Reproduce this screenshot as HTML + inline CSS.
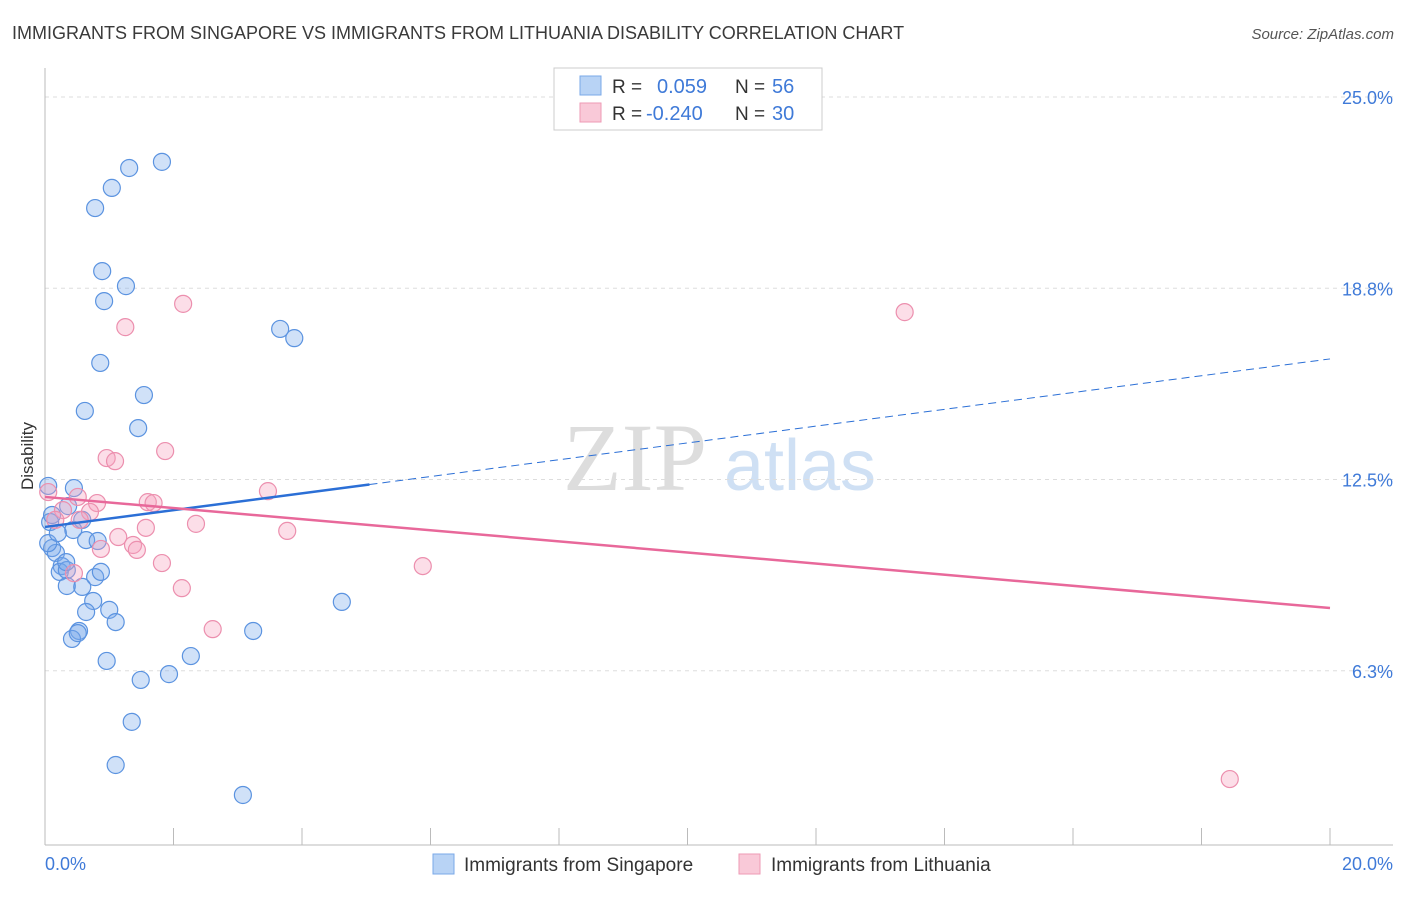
<!DOCTYPE html>
<html><head><meta charset="utf-8"><style>
body{margin:0;background:#fff;font-family:"Liberation Sans",sans-serif;}
</style></head><body>
<svg id="chart" width="1406" height="892" xmlns="http://www.w3.org/2000/svg" font-family="Liberation Sans, sans-serif">
<text x="12" y="39" font-size="18" fill="#3a3a3a">IMMIGRANTS FROM SINGAPORE VS IMMIGRANTS FROM LITHUANIA DISABILITY CORRELATION CHART</text>
<text x="1394" y="39" font-size="15" fill="#555" text-anchor="end" font-style="italic">Source: ZipAtlas.com</text>
<text transform="translate(33,456) rotate(-90)" font-size="17" fill="#333" text-anchor="middle">Disability</text>
<g><text x="635" y="490" font-size="96" fill="#ddd" text-anchor="middle" font-family="Liberation Serif, serif">ZIP</text><text x="800" y="490" font-size="72" fill="#cfe0f4" text-anchor="middle">atlas</text></g>
<g id="grid"></g><g id="axes"></g><g id="marks"></g>
<g>
<rect x="554" y="68" width="268" height="62" fill="#fff" stroke="#ccc"/>
<rect x="580" y="76" width="21" height="19" fill="#b8d3f5" stroke="#7aa8e8"/>
<rect x="580" y="103" width="21" height="19" fill="#f9c9d8" stroke="#ee9ab5"/>
<text x="612" y="93" font-size="19" fill="#333">R =</text><text x="657" y="93" font-size="20" fill="#3f7ad8">0.059</text>
<text x="735" y="93" font-size="19" fill="#333">N =</text><text x="772" y="93" font-size="20" fill="#3f7ad8">56</text>
<text x="612" y="120" font-size="19" fill="#333">R =</text><text x="646" y="120" font-size="20" fill="#3f7ad8">-0.240</text>
<text x="735" y="120" font-size="19" fill="#333">N =</text><text x="772" y="120" font-size="20" fill="#3f7ad8">30</text>
</g>
<g>
<rect x="433" y="854" width="21" height="20" fill="#b8d3f5" stroke="#7aa8e8"/>
<text x="464" y="871" font-size="19" fill="#333">Immigrants from Singapore</text>
<rect x="739" y="854" width="21" height="20" fill="#f9c9d8" stroke="#ee9ab5"/>
<text x="771" y="871" font-size="19" fill="#333">Immigrants from Lithuania</text>
</g>
</svg>
<script>
const yTicks=[25,18.75,12.5,6.25];
const yTickLabels=["25.0%","18.8%","12.5%","6.3%"];
const xTickLabels=["0.0%","20.0%"];
const blueX=[1.82,1.31,1.04,0.78,0.89,1.26,0.92,3.66,3.88,0.86,1.54,0.62,1.45,0.45,0.36,0.05,0.58,0.44,0.08,0.64,0.82,0.11,0.17,0.05,0.26,0.23,0.34,0.78,0.87,0.34,0.58,0.75,1.0,0.64,1.1,0.53,0.42,0.51,3.24,4.62,2.27,0.96,1.93,1.49,1.35,1.1,3.08,0.2,0.11,0.33];
const blueY=[22.88,22.68,22.03,21.37,19.31,18.82,18.33,17.42,17.12,16.31,15.26,14.74,14.18,12.22,11.63,12.29,11.18,10.85,11.11,10.52,10.49,10.26,10.1,10.42,9.67,9.48,9.54,9.31,9.48,9.02,8.99,8.53,8.24,8.17,7.84,7.55,7.29,7.48,7.55,8.5,6.73,6.57,6.14,5.95,4.58,3.17,2.19,10.75,11.34,9.8];
const pinkX=[2.15,1.25,13.38,1.87,0.96,1.09,3.47,1.6,1.69,0.81,0.51,0.28,0.7,0.05,0.16,2.35,1.57,3.77,1.14,1.37,1.43,0.87,1.82,5.88,0.45,2.13,2.61,18.44,0.54];
const pinkY=[18.24,17.48,17.97,13.43,13.2,13.1,12.12,11.76,11.73,11.73,11.93,11.5,11.44,12.09,11.18,11.05,10.92,10.82,10.62,10.36,10.2,10.23,9.77,9.67,9.44,8.95,7.61,2.71,11.18];
const blueTrend=[10.95,16.44];
const blueSolidEnd=5.05;
const pinkTrend=[11.93,8.3];
const NS="http://www.w3.org/2000/svg";
const xs=v=>45+v*64.25, ys=v=>97+(25-v)*30.6;
function mk(t,a,p){const e=document.createElementNS(NS,t);for(const k in a)e.setAttribute(k,a[k]);p.appendChild(e);return e;}
const grid=document.getElementById('grid'),axes=document.getElementById('axes'),marks=document.getElementById('marks');
yTicks.forEach((v,i)=>{
 const l=mk('line',{x1:45,x2:1393,y1:ys(v),y2:ys(v),stroke:'#ddd','stroke-dasharray':'4,4'},grid);
 
 
 const t=mk('text',{x:1393,y:ys(v)+7,'font-size':18,fill:'#3f7ad8','text-anchor':'end'},grid);
 t.textContent=yTickLabels[i];
 
 
});
mk('line',{x1:45,x2:45,y1:68,y2:845,stroke:'#bbb'},axes);
mk('line',{x1:45,x2:1393,y1:845,y2:845,stroke:'#bbb'},axes);
for(let i=0;i<=10;i++){mk('line',{x1:xs(i*2),x2:xs(i*2),y1:828,y2:845,stroke:'#bbb'},axes);}
[[0,'start',45],[20,'end',1393]].forEach((d,i)=>{
 const t=mk('text',{x:d[2],y:870,'font-size':18,fill:'#3f7ad8','text-anchor':d[1]},axes);
 t.textContent=xTickLabels[i];
 
 
});
blueX.forEach((x,i)=>{
 const c=mk('circle',{cx:xs(x),cy:ys(blueY[i]),r:8.5,fill:'rgba(120,170,235,0.35)',stroke:'#5b93e0','stroke-width':1.2},marks);
 
 
});
pinkX.forEach((x,i)=>{
 const c=mk('circle',{cx:xs(x),cy:ys(pinkY[i]),r:8.5,fill:'rgba(245,160,190,0.35)',stroke:'#ec8fae','stroke-width':1.2},marks);
 
 
});
const by=x=>blueTrend[0]+(blueTrend[1]-blueTrend[0])*x/20;
const b1=mk('line',{x1:xs(0),y1:ys(by(0)),x2:xs(blueSolidEnd),y2:ys(by(blueSolidEnd)),stroke:'#2b6fd6','stroke-width':2.5},marks);


const b2=mk('line',{x1:xs(blueSolidEnd),y1:ys(by(blueSolidEnd)),x2:xs(20),y2:ys(by(20)),stroke:'#2b6fd6','stroke-width':1,'stroke-dasharray':'8,5'},marks);


const p1=mk('line',{x1:xs(0),y1:ys(pinkTrend[0]),x2:xs(20),y2:ys(pinkTrend[1]),stroke:'#e8689a','stroke-width':2.5},marks);


</script>
</body></html>
